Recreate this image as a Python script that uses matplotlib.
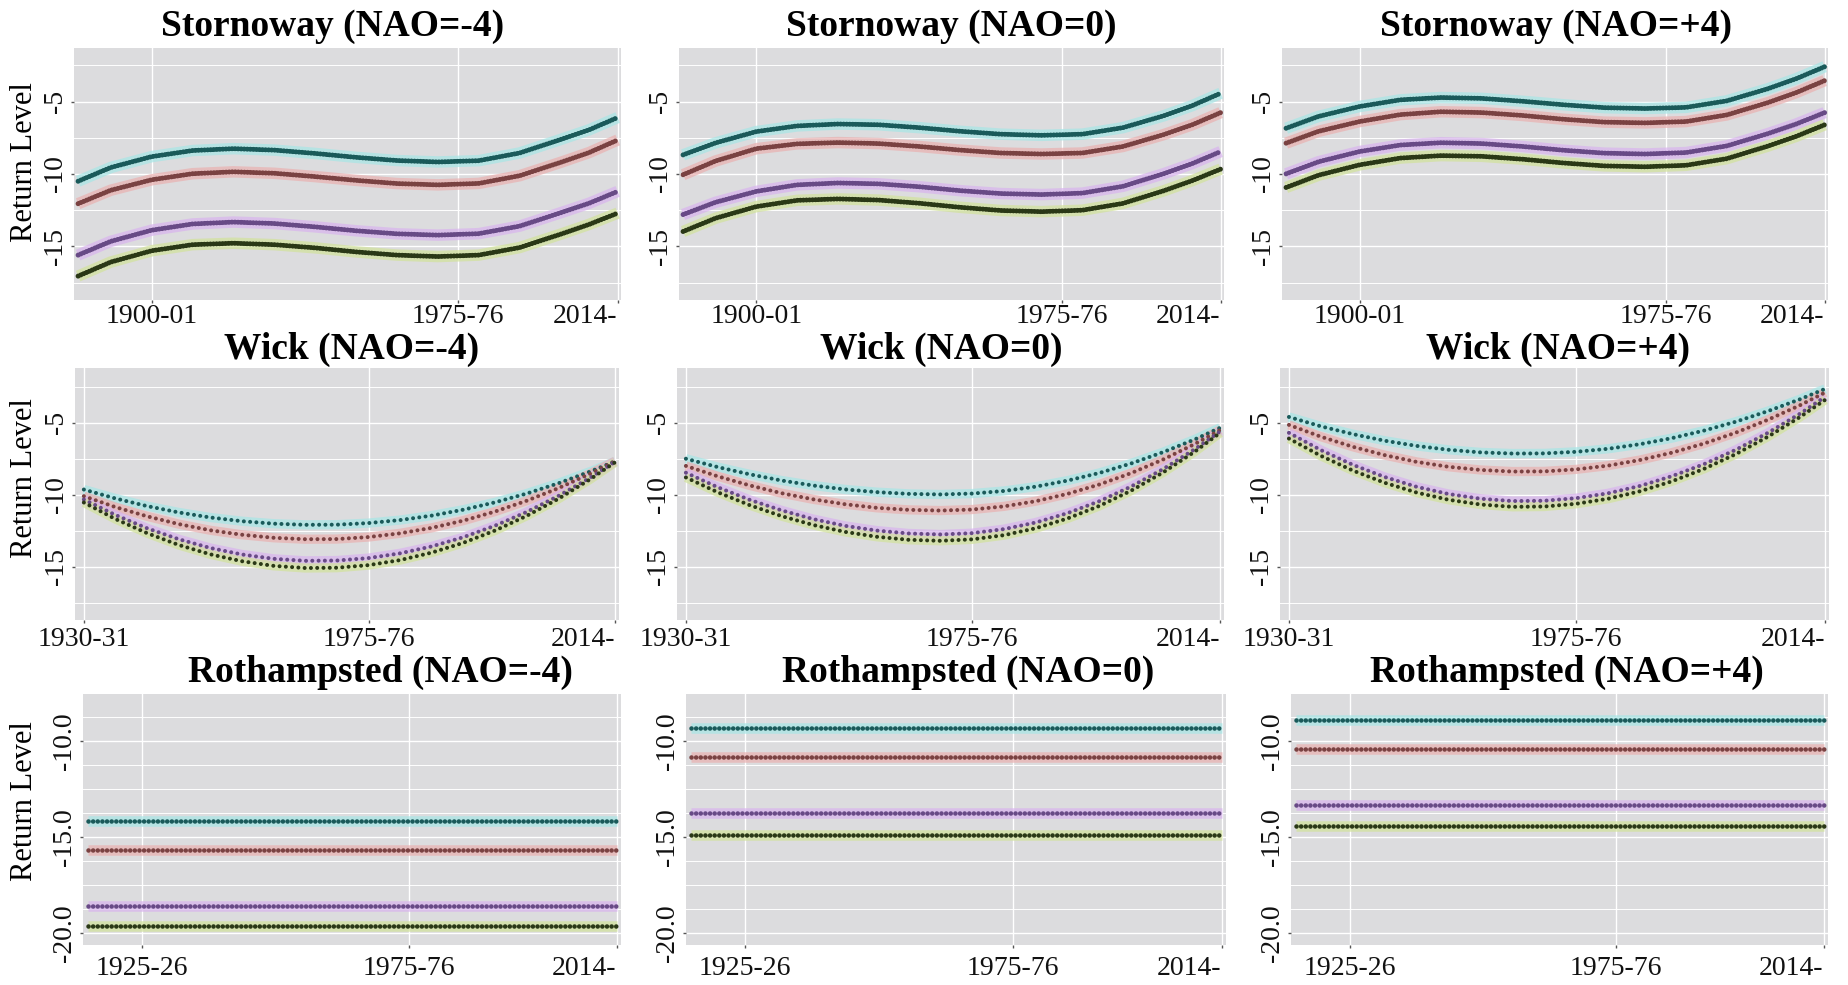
import numpy as np
import matplotlib.pyplot as plt

plt.rcParams['font.family'] = ['Liberation Serif', 'DejaVu Serif']

# season start years
storn_years = [1882, 1890, 1900, 1910, 1920, 1930, 1940, 1950, 1960, 1970, 1980, 1990, 2000, 2007, 2014]
wick_years = [1930, 1935, 1940, 1945, 1950, 1955, 1960, 1965, 1970, 1975, 1980, 1985, 1990, 1995, 2000, 2005, 2010, 2014]
roth_years = [1915, 2014]

# return levels, one row per curve: teal, red, purple, green
storn_m4 = [
    [-10.50, -9.55, -8.80, -8.38, -8.25, -8.35, -8.58, -8.85, -9.07, -9.17, -9.08, -8.55, -7.62, -6.95, -6.10],
    [-12.05, -11.12, -10.40, -9.98, -9.85, -9.95, -10.18, -10.44, -10.66, -10.75, -10.65, -10.12, -9.20, -8.52, -7.65],
    [-15.60, -14.65, -13.88, -13.45, -13.32, -13.42, -13.65, -13.92, -14.13, -14.22, -14.12, -13.60, -12.68, -12.02, -11.20],
    [-17.05, -16.08, -15.30, -14.88, -14.78, -14.88, -15.10, -15.38, -15.60, -15.70, -15.60, -15.08, -14.16, -13.48, -12.70],
]
storn_0 = [
    [-8.68, -7.85, -7.07, -6.68, -6.55, -6.60, -6.80, -7.05, -7.25, -7.33, -7.25, -6.80, -5.98, -5.28, -4.42],
    [-10.05, -9.10, -8.25, -7.92, -7.83, -7.90, -8.10, -8.35, -8.55, -8.62, -8.55, -8.10, -7.28, -6.60, -5.76],
    [-12.80, -11.95, -11.20, -10.75, -10.62, -10.68, -10.88, -11.15, -11.35, -11.42, -11.32, -10.85, -9.98, -9.28, -8.45],
    [-13.97, -13.05, -12.25, -11.82, -11.72, -11.80, -12.02, -12.30, -12.52, -12.60, -12.50, -12.03, -11.16, -10.46, -9.66],
]
storn_p4 = [
    [-6.84, -6.02, -5.34, -4.88, -4.72, -4.78, -4.98, -5.22, -5.42, -5.48, -5.40, -4.95, -4.12, -3.42, -2.59],
    [-7.87, -7.05, -6.38, -5.90, -5.70, -5.76, -5.96, -6.22, -6.42, -6.47, -6.38, -5.92, -5.08, -4.38, -3.55],
    [-9.99, -9.15, -8.45, -8.00, -7.84, -7.90, -8.10, -8.36, -8.56, -8.62, -8.52, -8.06, -7.22, -6.55, -5.76],
    [-10.93, -10.08, -9.37, -8.90, -8.73, -8.78, -8.98, -9.24, -9.44, -9.50, -9.40, -8.94, -8.08, -7.40, -6.60],
]

wick_m4 = [
    [-9.64, -10.26, -10.79, -11.23, -11.58, -11.84, -12.01, -12.09, -12.08, -11.97, -11.76, -11.45, -11.04, -10.53, -9.92, -9.21, -8.40, -7.68],
    [-10.10, -10.86, -11.50, -12.04, -12.47, -12.78, -12.99, -13.09, -13.08, -12.94, -12.68, -12.30, -11.80, -11.17, -10.42, -9.55, -8.55, -7.67],
    [-10.33, -11.41, -12.33, -13.09, -13.70, -14.15, -14.45, -14.59, -14.57, -14.40, -14.07, -13.59, -12.95, -12.15, -11.20, -10.09, -8.83, -7.71],
    [-10.54, -11.69, -12.67, -13.49, -14.14, -14.62, -14.94, -15.09, -15.07, -14.89, -14.54, -14.02, -13.34, -12.49, -11.47, -10.29, -8.94, -7.74],
]
wick_0 = [
    [-7.50, -8.08, -8.58, -9.01, -9.36, -9.63, -9.82, -9.94, -9.98, -9.92, -9.74, -9.44, -9.02, -8.49, -7.83, -7.05, -6.16, -5.35],
    [-8.00, -8.72, -9.35, -9.89, -10.32, -10.66, -10.91, -11.05, -11.10, -11.03, -10.81, -10.45, -9.94, -9.29, -8.50, -7.56, -6.48, -5.50],
    [-8.47, -9.48, -10.35, -11.08, -11.69, -12.16, -12.49, -12.69, -12.76, -12.67, -12.39, -11.93, -11.28, -10.45, -9.43, -8.23, -6.84, -5.60],
    [-8.80, -9.83, -10.72, -11.48, -12.10, -12.58, -12.92, -13.13, -13.20, -13.10, -12.81, -12.33, -11.65, -10.78, -9.72, -8.46, -7.01, -5.70],
]
wick_p4 = [
    [-4.60, -5.25, -5.79, -6.25, -6.61, -6.88, -7.06, -7.14, -7.13, -7.02, -6.81, -6.49, -6.07, -5.55, -4.93, -4.20, -3.38, -2.65],
    [-5.15, -5.97, -6.67, -7.25, -7.72, -8.06, -8.28, -8.39, -8.38, -8.24, -7.98, -7.59, -7.08, -6.45, -5.69, -4.80, -3.80, -2.90],
    [-5.70, -6.90, -7.92, -8.77, -9.45, -9.95, -10.28, -10.44, -10.42, -10.24, -9.90, -9.39, -8.71, -7.88, -6.88, -5.71, -4.39, -3.20],
    [-6.10, -7.30, -8.32, -9.17, -9.85, -10.35, -10.68, -10.84, -10.82, -10.63, -10.28, -9.76, -9.07, -8.21, -7.18, -5.98, -4.62, -3.41],
]

# Rothampsted levels are flat over the whole record
roth_m4 = [-14.13, -15.64, -18.56, -19.63]
roth_0 = [-9.30, -10.81, -13.73, -14.86]
roth_p4 = [-8.91, -10.43, -13.33, -14.43]

core_colors = ['#1a5a5a', '#7a4242', '#684a86', '#2a3816']
glow_colors = ['#a6e6e6', '#eab0b0', '#d9b3ee', '#d2e29a']

W, H = 1849, 985
fig = plt.figure(figsize=(W / 100, H / 100), dpi=100)
fig.patch.set_facecolor('white')


def add_panel(x0, x1, y0, y1):
    return fig.add_axes([x0 / W, 1 - y1 / H, (x1 - x0) / W, (y1 - y0) / H])


def style_axes(ax, xlim, xticks, xlabels, ylim, yticks, ylabels, yminor, xpad):
    ax.set_facecolor('#dcdcde')
    for s in ax.spines.values():
        s.set_visible(False)
    ax.set_xlim(*xlim)
    ax.set_ylim(*ylim)
    ax.set_xticks(xticks)
    labs = ax.set_xticklabels(xlabels)
    labs[-1].set_ha('right')
    ax.set_yticks(yticks)
    ax.set_yticklabels(ylabels, rotation=90, va='center')
    ax.set_yticks(yminor, minor=True)
    ax.grid(which='major', color='white', lw=1.0)
    ax.grid(which='minor', axis='y', color='white', lw=0.7)
    ax.set_axisbelow(True)
    ax.tick_params(which='minor', length=0)
    ax.tick_params(which='major', length=2, width=1, color='#555555', labelsize=20, labelcolor='#111111')
    ax.tick_params(axis='x', pad=xpad)
    ax.tick_params(axis='y', pad=2)


def draw_curves(ax, years, curves, lw, gap):
    for vals, core, glow in zip(curves, core_colors, glow_colors):
        ax.plot(years, vals, color=glow, lw=lw * 2.3, alpha=0.7, solid_capstyle='butt', zorder=2)
        ax.plot(years, vals, color=core, lw=lw, linestyle=(0, (0.01, gap)),
                dash_capstyle='round', zorder=3)


# column edges (pixels) for each row
cols_top = [(74, 621), (679, 1224), (1282, 1828)]
cols_mid = [(75, 619), (677, 1224), (1280, 1829)]
cols_bot = [(83, 621), (686, 1226), (1291, 1828)]

storn_sets = [storn_m4, storn_0, storn_p4]
wick_sets = [wick_m4, wick_0, wick_p4]
roth_sets = [roth_m4, roth_0, roth_p4]
nao_tags = ['-4', '0', '+4']

for i in range(3):
    ax = add_panel(cols_top[i][0], cols_top[i][1], 48, 300)
    draw_curves(ax, storn_years, storn_sets[i], 3.6, 0.6)
    style_axes(ax, (1881, 2014.8), [1900, 1975, 2014], ['1900-01', '1975-76', '2014-'],
               (-18.7, -1.3), [-5, -10, -15], ['-5', '-10', '-15'],
               [-2.5, -7.5, -12.5, -17.5], 1)

    ax = add_panel(cols_mid[i][0], cols_mid[i][1], 368, 620)
    draw_curves(ax, wick_years, wick_sets[i], 2.9, 1.55)
    style_axes(ax, (1928.6, 2014.6), [1930, 1975, 2014], ['1930-31', '1975-76', '2014-'],
               (-18.7, -1.2), [-5, -10, -15], ['-5', '-10', '-15'],
               [-2.5, -7.5, -12.5, -17.5], 3)

    ax = add_panel(cols_bot[i][0], cols_bot[i][1], 694, 945)
    flat = [[lvl, lvl] for lvl in roth_sets[i]]
    draw_curves(ax, roth_years, flat, 3.3, 1.0)
    style_axes(ax, (1914, 2014.8), [1925, 1975, 2014], ['1925-26', '1975-76', '2014-'],
               (-20.6, -7.55), [-10, -15, -20], ['-10.0', '-15.0', '-20.0'],
               [-8.75, -11.25, -12.5, -13.75, -16.25, -17.5, -18.75], 6)

# panel titles
title_x = [[333, 951, 1556], [352, 941, 1558], [380, 968, 1567]]
title_y = [26, 349, 672]
stations = ['Stornoway', 'Wick', 'Rothampsted']
for r in range(3):
    for c in range(3):
        fig.text(title_x[r][c] / W, 1 - title_y[r] / H, f'{stations[r]} (NAO={nao_tags[c]})',
                 ha='center', va='center', fontsize=27, fontweight='bold',
                 bbox=dict(facecolor='white', edgecolor='none', pad=1))

# shared y label on the left column
for yc in [162, 478, 801]:
    fig.text(25 / W, 1 - yc / H, 'Return Level', rotation=90, ha='center', va='center', fontsize=22)

fig.savefig('out.png', dpi=100, facecolor='white')
